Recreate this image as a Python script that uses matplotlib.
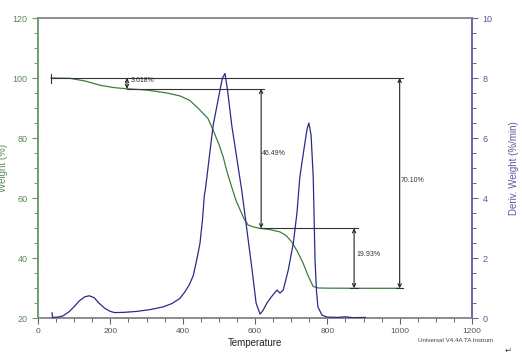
import matplotlib
matplotlib.use('Agg')
import matplotlib.pyplot as plt
from matplotlib.ticker import MultipleLocator

plt.rcParams['font.family'] = ['Liberation Sans', 'DejaVu Sans']

# --- TGA weight curve (Temperature, Weight %) ---
t_weight = [36, 88, 130, 171, 210, 246, 300, 357, 393, 420, 448, 470, 484, 500,
            512, 522, 536, 548, 559, 570, 581, 597, 614, 640, 669, 686, 702, 718,
            733, 747, 761, 775, 800, 900, 1000]
weight = [100.0, 99.9, 99.0, 97.6, 96.8, 96.4, 96.0, 95.0, 94.0, 92.5, 89.3, 86.5,
          82.7, 78.0, 73.7, 69.0, 63.5, 59.0, 56.0, 53.0, 51.0, 50.3, 49.9, 49.5,
          48.7, 47.5, 45.3, 42.0, 38.3, 34.0, 30.5, 30.0, 29.95, 29.9, 29.9]

# --- DTG curve (Temperature, Deriv. Weight %/min) ---
t_deriv = [39, 40, 55, 69, 85, 100, 115, 130, 142, 155, 170, 185, 200, 212, 240,
           273, 310, 346, 370, 392, 405, 418, 429, 440, 448, 455, 460, 463, 470,
           484, 500, 510, 517, 524, 536, 550, 564, 578, 592, 603, 614, 622, 633,
           645, 655, 661, 669, 678, 692, 706, 716, 724, 735, 744, 749, 755, 761,
           766, 770, 774, 785, 799, 830, 850, 870, 905]
deriv = [0.17, 0.02, 0.03, 0.07, 0.2, 0.38, 0.58, 0.71, 0.74, 0.68, 0.48, 0.32,
         0.22, 0.18, 0.19, 0.22, 0.28, 0.37, 0.48, 0.65, 0.85, 1.1, 1.4, 2.0, 2.5,
         3.3, 4.1, 4.3, 5.0, 6.4, 7.4, 8.0, 8.15, 7.6, 6.4, 5.3, 4.2, 2.9, 1.6, 0.5,
         0.13, 0.25, 0.5, 0.7, 0.85, 0.93, 0.83, 0.93, 1.6, 2.5, 3.5, 4.7, 5.6, 6.3,
         6.5, 6.1, 4.7, 1.93, 0.9, 0.37, 0.1, 0.03, 0.02, 0.04, 0.01, 0.02]

# --- step annotations ---
step_t = [246, 617, 874, 1000]
step_hi = [100.0, 96.38, 49.89, 100.0]
step_lo = [96.38, 49.89, 29.96, 29.9]
step_labels = ['3.618%', '46.49%', '19.93%', '70.10%']
label_xy = [(256, 99.0), (620, 74.7), (880, 41.0), (1003, 66.0)]

GREEN = '#3d7d3d'
GREEN_AX = '#6b9b6b'
BLUE = '#2b2b85'
BLUE_AX = '#6464a4'

fig = plt.figure(figsize=(5.22, 3.56), dpi=100)
ax = fig.add_axes([38 / 522, 1 - 318 / 356, 434 / 522, 300 / 356])
ax2 = ax.twinx()

ax.plot(t_weight, weight, color=GREEN, lw=0.9, zorder=3)
ax2.plot(t_deriv, deriv, color=BLUE, lw=0.9, zorder=3)

# reference lines for the steps
hl = dict(color='#333333', lw=0.8, zorder=4)
ax.plot([36, 1009], [100, 100], **hl)
ax.plot([36, 36], [98.5, 101.5], **hl)
ax.plot([246, 625], [96.38, 96.38], **hl)
ax.plot([614, 885], [49.89, 49.89], **hl)
ax.plot([862, 886], [29.96, 29.96], **hl)
ax.plot([990, 1009], [29.9, 29.9], **hl)

for t, hi, lo, lab, (lx, ly) in zip(step_t, step_hi, step_lo, step_labels, label_xy):
    ax.annotate('', xy=(t, lo), xytext=(t, hi),
                arrowprops=dict(arrowstyle='<->', color='#222222', lw=0.8,
                                mutation_scale=6, shrinkA=0, shrinkB=0), zorder=5)
    ax.text(lx, ly, lab, fontsize=5, color='#333333', va='center', ha='left')

ax.set_xlim(0, 1200)
ax.set_ylim(20, 120)
ax2.set_ylim(0, 10)

ax.xaxis.set_major_locator(MultipleLocator(200))
ax.xaxis.set_minor_locator(MultipleLocator(50))
ax.yaxis.set_major_locator(MultipleLocator(20))
ax.yaxis.set_minor_locator(MultipleLocator(5))
ax2.yaxis.set_major_locator(MultipleLocator(2))
ax2.yaxis.set_minor_locator(MultipleLocator(0.5))

ax.tick_params(axis='x', which='both', colors='#666666', labelsize=6, labelcolor='#555555')
ax.tick_params(axis='x', which='major', length=4, width=0.8)
ax.tick_params(axis='x', which='minor', length=3, width=0.7)
ax.tick_params(axis='y', which='both', colors=GREEN_AX, labelsize=6.5, labelcolor='#5a8a5a')
ax.tick_params(axis='y', which='major', length=4, width=0.8)
ax.tick_params(axis='y', which='minor', length=3, width=0.7)
ax2.tick_params(axis='y', which='both', colors=BLUE_AX, labelsize=6.5, labelcolor='#5858a0')
ax2.tick_params(axis='y', which='major', length=4, width=0.8)
ax2.tick_params(axis='y', which='minor', length=3, width=0.7)

for a in (ax, ax2):
    a.spines['top'].set_color('#888888')
    a.spines['bottom'].set_color('#888888')
    a.spines['left'].set_color(GREEN_AX)
    a.spines['right'].set_color(BLUE_AX)
    for s in a.spines.values():
        s.set_linewidth(1.1)

ax.set_xlabel('Temperature', fontsize=7, color='#222222', labelpad=2)
ax.set_ylabel('Weight (%)', fontsize=7, color='#5a8a5a')
ax.yaxis.set_label_coords(-0.068, 0.5)
ax2.set_ylabel('Deriv. Weight (%/min)', fontsize=7, color='#5858a0', labelpad=12)

fig.text(418 / 522, 1 - 340 / 356, 'Universal V4.4A TA Instrum', fontsize=4.5,
         color='#444444', ha='left', va='center')
fig.text(508 / 522, 1 - 350 / 356, '\u21b5', fontsize=6, color='#444444',
         ha='center', va='center', family=['DejaVu Sans'])

fig.savefig('out.png', dpi=100)
